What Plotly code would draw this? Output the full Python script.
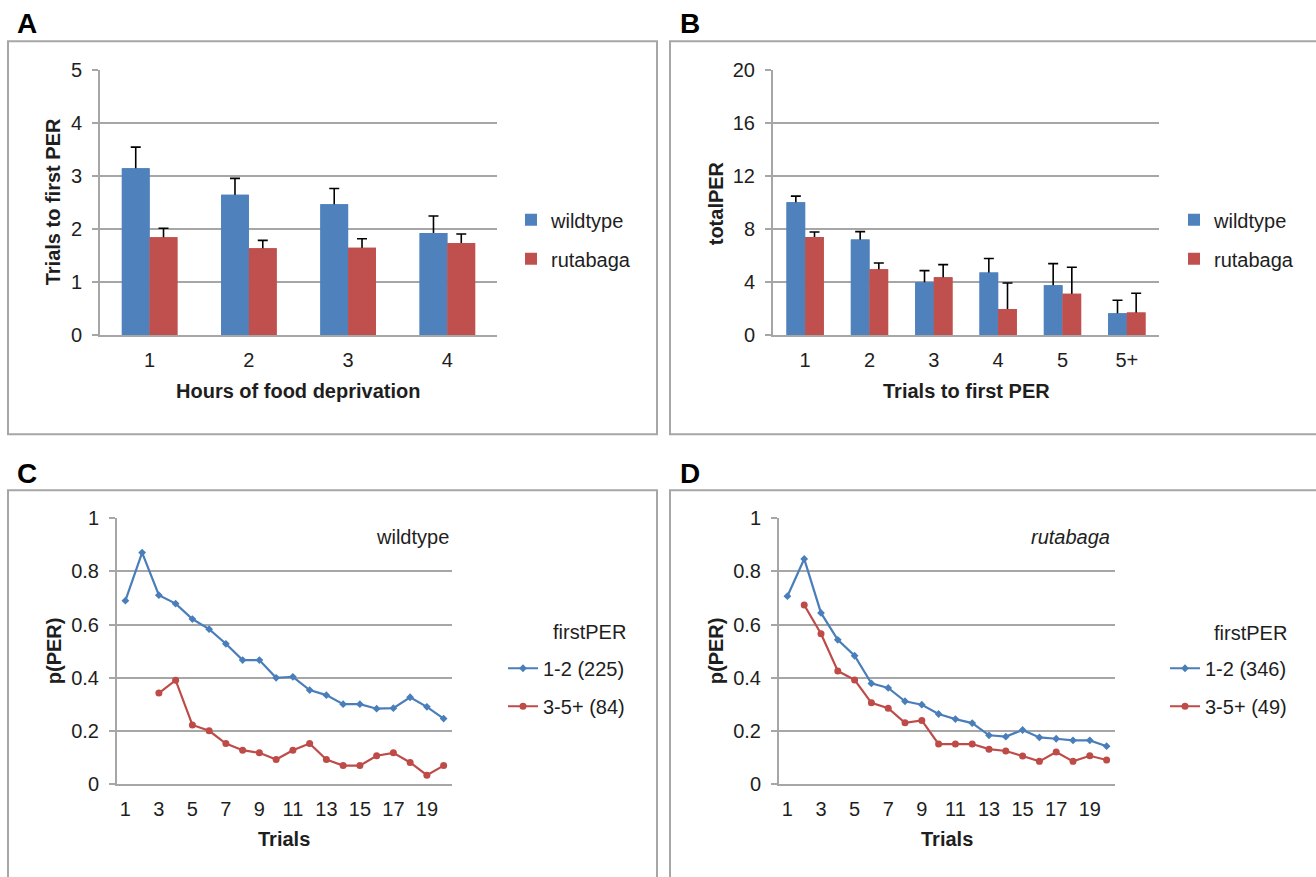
import plotly.graph_objects as go

# ---- data -------------------------------------------------------------
hours = ["1", "2", "3", "4"]
a_wildtype = [3.15, 2.65, 2.47, 1.93]
a_wildtype_err = [0.40, 0.31, 0.30, 0.32]
a_rutabaga = [1.85, 1.64, 1.65, 1.74]
a_rutabaga_err = [0.17, 0.15, 0.17, 0.17]

first_per = ["1", "2", "3", "4", "5", "5+"]
b_wildtype = [10.04, 7.22, 4.00, 4.73, 3.77, 1.66]
b_wildtype_err = [0.46, 0.60, 0.88, 1.06, 1.64, 0.98]
b_rutabaga = [7.42, 4.98, 4.38, 1.99, 3.14, 1.71]
b_rutabaga_err = [0.38, 0.48, 0.95, 1.96, 1.99, 1.46]

trials = list(range(1, 21))
c_early = [0.690, 0.871, 0.711, 0.679, 0.621, 0.583, 0.528, 0.467, 0.467, 0.400,
           0.404, 0.354, 0.335, 0.301, 0.301, 0.284, 0.286, 0.327, 0.291, 0.247]
c_late = [None, None, 0.343, 0.391, 0.223, 0.201, 0.153, 0.128, 0.118, 0.093,
          0.128, 0.153, 0.093, 0.070, 0.070, 0.107, 0.118, 0.082, 0.034, 0.070]
d_early = [0.707, 0.847, 0.644, 0.543, 0.483, 0.379, 0.362, 0.312, 0.299, 0.264,
           0.245, 0.230, 0.184, 0.179, 0.204, 0.176, 0.171, 0.165, 0.165, 0.143]
d_late = [None, 0.674, 0.566, 0.426, 0.392, 0.306, 0.286, 0.231, 0.240, 0.151,
          0.151, 0.151, 0.132, 0.125, 0.106, 0.086, 0.121, 0.086, 0.107, 0.091]

c_names = ["1-2 (225)", "3-5+ (84)"]
d_names = ["1-2 (346)", "3-5+ (49)"]

# ---- styling ----------------------------------------------------------
W, H = 1316, 877
BLUE, RED = "#4F81BD", "#C0504D"
LBLUE, LRED = "#4A7EBB", "#BE4B48"
GRID = "#A6A6A6"
TXT = "#1E1E1E"
FONT = "Arial, Liberation Sans, sans-serif"
FS = 20

# vertical placement helper: maps a target pixel row of the final page
# to a paper fraction (the page is laid out slightly taller than shown)
Y_OFF, Y_SCALE = 9.7, 0.975


def px(x):
    return x / W


def py(y):
    return 1 - ((y - Y_OFF) / Y_SCALE) / H


fig = go.Figure()


def add_bars(cats, wt, wt_err, ru, ru_err, xa, ya, legend, half):
    for name, vals, err, color, off in [
        ("wildtype", wt, wt_err, BLUE, -half),
        ("rutabaga", ru, ru_err, RED, 0.0),
    ]:
        # bar with symmetric error bar; the lower half is hidden by the
        # identical bar drawn on top of it, leaving a plus-only error bar
        fig.add_trace(go.Bar(
            x=cats, y=vals, name=name, marker_color=color, marker_line_width=0,
            offset=off, width=half, xaxis=xa, yaxis=ya, legend=legend,
            legendgroup=legend + name,
            error_y=dict(type="data", array=err, visible=True,
                         color="#000000", thickness=1.6, width=5),
        ))
        fig.add_trace(go.Bar(
            x=cats, y=vals, name=name, marker_color=color, marker_line_width=0,
            offset=off, width=half, xaxis=xa, yaxis=ya, showlegend=False,
            legend=legend, legendgroup=legend + name, hoverinfo="skip",
        ))


add_bars(hours, a_wildtype, a_wildtype_err, a_rutabaga, a_rutabaga_err,
         "x", "y", "legend", 0.28)
add_bars(first_per, b_wildtype, b_wildtype_err, b_rutabaga, b_rutabaga_err,
         "x2", "y2", "legend2", 0.29)


def add_lines(early, late, names, xa, ya, legend):
    fig.add_trace(go.Scatter(
        x=trials, y=early, name=names[0], mode="lines+markers",
        line=dict(color=LBLUE, width=2.2),
        marker=dict(symbol="diamond", size=6, color=LBLUE),
        xaxis=xa, yaxis=ya, legend=legend, legendgroup=legend + "a",
    ))
    fig.add_trace(go.Scatter(
        x=trials, y=late, name=names[1], mode="lines+markers",
        line=dict(color=LRED, width=2.2),
        marker=dict(symbol="circle", size=7, color=LRED),
        xaxis=xa, yaxis=ya, legend=legend, legendgroup=legend + "b",
    ))


add_lines(c_early, c_late, c_names, "x3", "y3", "legend3")
add_lines(d_early, d_late, d_names, "x4", "y4", "legend4")

# ---- axes -------------------------------------------------------------
common_y = dict(showgrid=True, gridcolor=GRID, gridwidth=2, showline=True,
                linecolor=GRID, linewidth=2, ticks="outside", ticklen=6,
                tickcolor=GRID, tickwidth=2, zeroline=False,
                tickfont=dict(family=FONT, size=FS, color=TXT),
                ticklabelstandoff=6)
common_x = dict(showgrid=False, showline=True, linecolor=GRID, linewidth=2,
                ticks="", zeroline=False,
                tickfont=dict(family=FONT, size=FS, color=TXT),
                ticklabelstandoff=6)

panels = {
    "A": dict(x=(100, 497), y=(69, 334)),
    "B": dict(x=(773, 1159), y=(69, 334)),
    "C": dict(x=(117, 452), y=(517, 783)),
    "D": dict(x=(779, 1115), y=(517, 783)),
}


def dom(p):
    return dict(domain=[px(p["x"][0]), px(p["x"][1])]), \
        dict(domain=[py(p["y"][1]), py(p["y"][0])])


dxa, dya = dom(panels["A"])
dxb, dyb = dom(panels["B"])
dxc, dyc = dom(panels["C"])
dxd, dyd = dom(panels["D"])

p_ticks = [0, 0.2, 0.4, 0.6, 0.8, 1]
p_text = ["0", "0.2", "0.4", "0.6", "0.8", "1"]

fig.update_layout(
    xaxis=dict(**common_x, **dxa, anchor="y", type="category",
               range=[-0.5, 3.5]),
    yaxis=dict(**common_y, **dya, anchor="x", range=[0, 5], dtick=1),
    xaxis2=dict(**common_x, **dxb, anchor="y2", type="category",
                range=[-0.5, 5.5]),
    yaxis2=dict(**common_y, **dyb, anchor="x2", range=[0, 20], dtick=4),
    xaxis3=dict(**common_x, **dxc, anchor="y3", range=[0.5, 20.5],
                tickvals=trials[::2]),
    yaxis3=dict(**common_y, **dyc, anchor="x3", range=[0, 1],
                tickvals=p_ticks, ticktext=p_text),
    xaxis4=dict(**common_x, **dxd, anchor="y4", range=[0.5, 20.5],
                tickvals=trials[::2]),
    yaxis4=dict(**common_y, **dyd, anchor="x4", range=[0, 1],
                tickvals=p_ticks, ticktext=p_text),
)

# ---- legends ----------------------------------------------------------
leg_font = dict(family=FONT, size=FS, color=TXT)
bar_leg = dict(font=leg_font, bgcolor="rgba(0,0,0,0)", borderwidth=0,
               tracegroupgap=10, traceorder="grouped", yanchor="middle",
               xanchor="left")
line_leg = dict(font=leg_font, bgcolor="rgba(0,0,0,0)", borderwidth=0,
                tracegroupgap=9, traceorder="grouped", yanchor="middle",
                xanchor="left")
fig.update_layout(
    legend=dict(**bar_leg, x=px(511), y=py(238)),
    legend2=dict(**bar_leg, x=px(1174), y=py(238)),
    legend3=dict(**line_leg, x=px(503), y=py(686)),
    legend4=dict(**line_leg, x=px(1165), y=py(686)),
)

# ---- panel frames, letters and titles ---------------------------------
frames = [(8, 40, 657, 433), (670, 40, 1330, 433),
          (8, 489, 657, 900), (670, 489, 1330, 900)]
for x0, y0, x1, y1 in frames:
    fig.add_shape(type="rect", xref="paper", yref="paper",
                  x0=px(x0), y0=py(y1), x1=px(x1), y1=py(y0),
                  line=dict(color=GRID, width=2), layer="below")

ann = []
for letter, x, y in [("A", 15, 22), ("B", 678, 22), ("C", 15, 472),
                     ("D", 678, 472)]:
    ann.append(dict(text="<b>%s</b>" % letter, x=px(x), y=py(y),
                    xanchor="left", yanchor="middle",
                    font=dict(family=FONT, size=28, color="#000")))

title_font = dict(family=FONT, size=FS, color=TXT)
for text, x, y in [("Hours of food deprivation", 298, 390),
                   ("Trials to first PER", 966, 390),
                   ("Trials", 284, 838), ("Trials", 947, 838)]:
    ann.append(dict(text="<b>%s</b>" % text, x=px(x), y=py(y),
                    xanchor="center", yanchor="middle", font=title_font))
for text, x, y in [("Trials to first PER", 53, 201), ("totalPER", 716, 202),
                   ("p(PER)", 54, 650), ("p(PER)", 716, 650)]:
    ann.append(dict(text="<b>%s</b>" % text, x=px(x), y=py(y),
                    textangle=-90, xanchor="center", yanchor="middle",
                    font=title_font))

# strain labels inside the line panels and legend headings
ann.append(dict(text="wildtype", x=px(451), y=py(536), xanchor="right",
                yanchor="middle", font=title_font))
ann.append(dict(text="<i>rutabaga</i>", x=px(1112), y=py(536),
                xanchor="right", yanchor="middle", font=title_font))
ann.append(dict(text="firstPER", x=px(628), y=py(631), xanchor="right",
                yanchor="middle", font=title_font))
ann.append(dict(text="firstPER", x=px(1289), y=py(632), xanchor="right",
                yanchor="middle", font=title_font))

for a in ann:
    a.update(xref="paper", yref="paper", showarrow=False)

fig.update_layout(
    annotations=ann,
    width=W, height=H, autosize=False,
    margin=dict(l=0, r=0, t=0, b=0),
    paper_bgcolor="white", plot_bgcolor="rgba(0,0,0,0)",
    barmode="overlay", showlegend=True,
    font=dict(family=FONT, color=TXT),
)

fig.write_html("out.html")
